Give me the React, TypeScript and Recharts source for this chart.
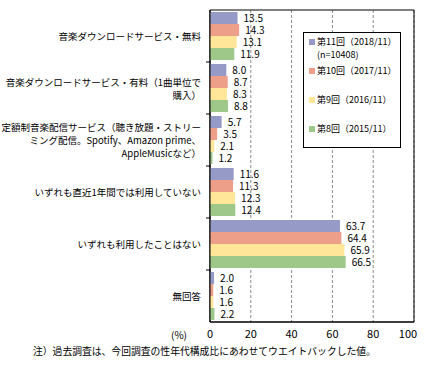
import React from 'react';
import { BarChart, Bar, XAxis, YAxis, CartesianGrid, LabelList, Legend, ReferenceArea } from 'recharts';

const categories = [
  '音楽ダウンロードサービス・無料',
  '音楽ダウンロードサービス・有料（1曲単位で\n購入）',
  '定額制音楽配信サービス（聴き放題・ストリー\nミング配信。Spotify、Amazon prime、\nAppleMusicなど）',
  'いずれも直近1年間では利用していない',
  'いずれも利用したことはない',
  '無回答',
];

const wave11 = [13.5, 8.0, 5.7, 11.6, 63.7, 2.0];
const wave10 = [14.3, 8.7, 3.5, 11.3, 64.4, 1.6];
const wave9 = [13.1, 8.3, 2.1, 12.3, 65.9, 1.6];
const wave8 = [11.9, 8.8, 1.2, 12.4, 66.5, 2.2];

const xTicks = [0, 20, 40, 60, 80, 100];

const series = [
  { key: 'w11', name: '第11回（2018/11）', sub: '(n=10408)', color: '#959ac6' },
  { key: 'w10', name: '第10回（2017/11）', sub: '', color: '#ee9f8a' },
  { key: 'w9', name: '第9回（2016/11）', sub: '', color: '#ffe699' },
  { key: 'w8', name: '第8回（2015/11）', sub: '', color: '#9ec88a' },
];

const data = categories.map((c, i) => ({
  name: c,
  w11: wave11[i],
  w10: wave10[i],
  w9: wave9[i],
  w8: wave8[i],
}));

const FONT = '"Noto Sans CJK JP", "Noto Sans", sans-serif';
const PLOT_LEFT = 210;
const BAND = 52;

const CategoryTick = (props: any) => {
  const { y, payload, index } = props;
  const lines: string[] = String(payload.value).split('\n');
  const lh = 13;
  const startY = y - ((lines.length - 1) * lh) / 2;
  return (
    <g>
      {index < categories.length - 1 && (
        <line x1={PLOT_LEFT - 4} x2={PLOT_LEFT} y1={y + BAND / 2} y2={y + BAND / 2} stroke="#000" />
      )}
      <text textAnchor="end" fontSize={9.5} fontFamily={FONT} fill="#000">
        {lines.map((l, i) => (
          <tspan key={i} x={PLOT_LEFT - 9} y={startY + i * lh} dominantBaseline="central">
            {l}
          </tspan>
        ))}
      </text>
    </g>
  );
};

const ValueTick = (props: any) => {
  const { x, y, payload } = props;
  const dx = payload.value === 100 ? -6 : 0;
  return (
    <text x={x + dx} y={y + 8} textAnchor="middle" fontSize={11} fontFamily={FONT} fill="#000">
      {payload.value}
    </text>
  );
};

const LegendBox = () => (
  <div
    style={{
      width: 98,
      height: 116,
      boxSizing: 'border-box',
      border: '1px solid #000',
      background: '#fff',
      paddingTop: 2,
      paddingLeft: 5,
      fontFamily: FONT,
      fontSize: 9,
      lineHeight: '13px',
      color: '#000',
      textAlign: 'left',
    }}
  >
    {series.map((s) => (
      <div key={s.key} style={{ height: 29, display: 'flex', alignItems: 'flex-start' }}>
        <span
          style={{ display: 'inline-block', width: 6, height: 6, background: s.color, marginTop: 4, marginRight: 2, flex: 'none' }}
        />
        <span style={{ whiteSpace: 'nowrap' }}>
          {s.name}
          {s.sub && (
            <>
              <br />
              {s.sub}
            </>
          )}
        </span>
      </div>
    ))}
  </div>
);

export default function App() {
  return (
    <div style={{ position: 'absolute', left: 0, top: 0, width: 432, height: 376, background: '#fff' }}>
      <BarChart
        width={432}
        height={376}
        data={data}
        layout="vertical"
        margin={{ top: 10, right: 18, bottom: 34, left: 0 }}
        barCategoryGap={2}
        barGap={0}
      >
        <CartesianGrid horizontal={false} stroke="#8c8c8c" strokeDasharray="3 2" />
        <XAxis
          type="number"
          domain={[0, 100]}
          ticks={xTicks}
          height={20}
          tickLine={false}
          axisLine={{ stroke: '#000' }}
          tick={<ValueTick />}
        />
        <YAxis
          type="category"
          dataKey="name"
          width={PLOT_LEFT}
          tickLine={false}
          axisLine={{ stroke: '#000' }}
          interval={0}
          tick={<CategoryTick />}
        />
        {series.map((s) => (
          <Bar key={s.key} dataKey={s.key} name={s.name} fill={s.color} isAnimationActive={false}>
            <LabelList
              dataKey={s.key}
              position="right"
              offset={6}
              formatter={(v: any) => Number(v).toFixed(1)}
              style={{ fontSize: 10, fontFamily: FONT, fill: '#000' }}
            />
          </Bar>
        ))}
        <ReferenceArea x1={0} x2={100} fill="none" stroke="#000" strokeWidth={1} fillOpacity={0} />
        <Legend
          layout="vertical"
          align="center"
          verticalAlign="middle"
          content={<LegendBox />}
          wrapperStyle={{ position: 'absolute', left: 303, top: 32, width: 98, height: 116 }}
        />
      </BarChart>
      <div style={{ position: 'absolute', left: 171, top: 327, fontSize: 10, fontFamily: FONT, whiteSpace: 'nowrap' }}>
        (%)
      </div>
      <div style={{ position: 'absolute', left: 33, top: 344, fontSize: 9.8, fontFamily: FONT, whiteSpace: 'nowrap' }}>
        注）過去調査は、今回調査の性年代構成比にあわせてウエイトバックした値。
      </div>
    </div>
  );
}
